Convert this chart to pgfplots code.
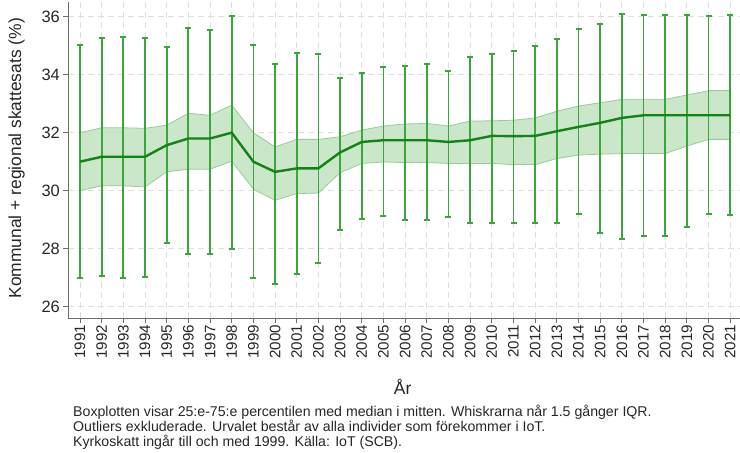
\documentclass[border=0pt]{standalone}
\usepackage{pgfplots}
\pgfplotsset{compat=1.18}
\usepackage{pgfplotstable}
\usepgfplotslibrary{fillbetween}
\usepackage{fontspec}
\setmainfont{Liberation Sans}
\definecolor{medgreen}{RGB}{20,130,20}
\definecolor{whgreen}{RGB}{60,165,60}
\definecolor{bandfill}{RGB}{196,228,196}
\definecolor{bandedge}{RGB}{150,205,150}
\definecolor{gridgray}{RGB}{222,222,222}
\definecolor{axgray}{RGB}{110,110,110}
\pgfplotstableread{
year lo q1 med q3 hi
1991 27.00 30.00 31.00 32.00 35.02
1992 27.07 30.17 31.17 32.17 35.25
1993 27.00 30.17 31.17 32.17 35.29
1994 27.04 30.13 31.17 32.15 35.25
1995 28.18 30.65 31.57 32.26 34.94
1996 27.81 30.74 31.80 32.67 35.60
1997 27.83 30.74 31.80 32.60 35.54
1998 27.99 31.02 32.00 32.95 36.02
1999 27.00 30.05 31.00 32.00 35.02
2000 26.78 29.67 30.65 31.51 34.37
2001 27.14 29.90 30.77 31.77 34.74
2002 27.49 29.92 30.77 31.77 34.70
2003 28.64 30.62 31.32 31.86 33.87
2004 29.03 30.94 31.68 32.09 34.05
2005 29.12 30.99 31.74 32.23 34.25
2006 29.00 30.97 31.74 32.30 34.31
2007 28.98 30.97 31.74 32.32 34.37
2008 29.08 30.94 31.68 32.23 34.13
2009 28.89 30.94 31.74 32.40 34.60
2010 28.89 30.94 31.89 32.41 34.70
2011 28.89 30.90 31.88 32.43 34.82
2012 28.89 30.90 31.89 32.51 35.00
2013 28.89 31.11 32.05 32.74 35.23
2014 29.19 31.23 32.20 32.92 35.58
2015 28.54 31.26 32.34 33.03 35.75
2016 28.35 31.28 32.51 33.15 36.08
2017 28.43 31.28 32.60 33.15 36.05
2018 28.43 31.28 32.60 33.15 36.05
2019 28.75 31.54 32.60 33.30 36.05
2020 29.19 31.77 32.60 33.45 36.02
2021 29.15 31.77 32.60 33.45 36.05
}\datatable
\begin{document}
\begin{tikzpicture}
\begin{axis}[
  scale only axis,
  width=671.7bp, height=316.1bp,
  xmin=1990.46, xmax=2021.45,
  ymin=25.6, ymax=36.5,
  axis lines*=left,
  axis line style={axgray, line width=1.3pt},
  xtick={1991,...,2021},
  ytick={26,28,...,36},
  tick align=outside,
  tick style={axgray, line width=1pt},
  major tick length=5bp,
  /pgf/number format/assume math mode=true,
  /pgf/number format/set thousands separator={},
  xticklabel style={rotate=90, anchor=east, inner sep=1.5pt, font=\fontsize{15.2}{16}\selectfont, text=black!85},
  yticklabel style={font=\fontsize{16.5}{17}\selectfont, text=black!85},
  grid=major,
  major grid style={gridgray, dash pattern=on 6bp off 4bp, line width=0.8pt},
  clip=false,
]
\addplot[name path=qlo, bandedge, line width=0.8pt] table[x=year, y=q1] {\datatable};
\addplot[name path=qhi, bandedge, line width=0.8pt] table[x=year, y=q3] {\datatable};
\addplot[bandfill, fill opacity=0.9, draw=none] fill between[of=qlo and qhi];
\addplot[whgreen, line width=1.6pt, draw=none, mark=none,
  error bars/.cd, y dir=both, y explicit,
  error bar style={whgreen, line width=1.8pt},
  error mark options={whgreen, line width=2pt, mark size=3bp, rotate=90}]
  table[x=year, y=med,
        y error plus expr=\thisrow{hi}-\thisrow{med},
        y error minus expr=\thisrow{med}-\thisrow{lo}] {\datatable};
\addplot[medgreen, line width=2.4pt] table[x=year, y=med] {\datatable};
\end{axis}
\node[rotate=90, anchor=center, inner sep=0pt, font=\fontsize{17.5}{18}\selectfont, text=black!85] at (-51.6bp,160bp) {Kommunal + regional skattesats (\%)};
\node[anchor=center, inner sep=0pt, font=\fontsize{17.5}{18}\selectfont, text=black!85] at (334.3bp,-68.5bp) {År};
\node[anchor=north west, align=left, inner sep=0pt, font=\fontsize{14.2}{15}\selectfont, text=black!85] at (4.7bp,-87bp)
{Boxplotten visar 25:e-75:e percentilen med median i mitten. Whiskrarna når 1.5 gånger IQR.\\
Outliers exkluderade. Urvalet består av alla individer som förekommer i IoT.\\
Kyrkoskatt ingår till och med 1999. Källa: IoT (SCB).};
\pgfresetboundingbox
\useasboundingbox (-68.3bp,-134.7bp) rectangle (671.7bp,318.3bp);
\end{tikzpicture}
\end{document}
